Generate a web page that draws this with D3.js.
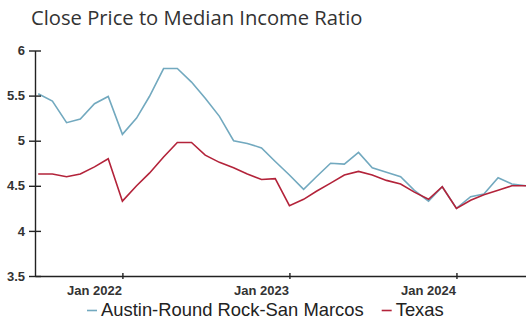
<!DOCTYPE html>
<html>
<head>
<meta charset="utf-8">
<script src="https://cdn.jsdelivr.net/npm/d3@7"></script>
<style>
  html, body { margin: 0; padding: 0; background: #fff; }
  svg { display: block; }
</style>
</head>
<body>
<svg id="chart" width="526" height="322"></svg>
<script>
// Monthly series, Jul 2021 – Jun 2024
const months = [
  "2021-07","2021-08","2021-09","2021-10","2021-11","2021-12",
  "2022-01","2022-02","2022-03","2022-04","2022-05","2022-06",
  "2022-07","2022-08","2022-09","2022-10","2022-11","2022-12",
  "2023-01","2023-02","2023-03","2023-04","2023-05","2023-06",
  "2023-07","2023-08","2023-09","2023-10","2023-11","2023-12",
  "2024-01","2024-02","2024-03","2024-04","2024-05","2024-06"
];
const austin = [
  5.52, 5.44, 5.20, 5.24, 5.41, 5.49,
  5.07, 5.25, 5.49, 5.80, 5.80, 5.65,
  5.47, 5.27, 5.00, 4.97, 4.92, 4.77,
  4.62, 4.46, 4.60, 4.75, 4.74, 4.87,
  4.70, 4.65, 4.60, 4.45, 4.33, 4.49,
  4.25, 4.38, 4.41, 4.59, 4.52, 4.50
];
const texas = [
  4.63, 4.63, 4.60, 4.63, 4.71, 4.80,
  4.33, 4.50, 4.64, 4.82, 4.98, 4.98,
  4.84, 4.76, 4.70, 4.63, 4.57, 4.58,
  4.28, 4.35, 4.44, 4.53, 4.62, 4.66,
  4.62, 4.56, 4.52, 4.43, 4.35, 4.49,
  4.25, 4.34, 4.40, 4.45, 4.50, 4.50
];
const yTicks = [3.5, 4, 4.5, 5, 5.5, 6];
const xTickLabels = ["2022-01", "2023-01", "2024-01"];
const seriesNames = ["Austin-Round Rock-San Marcos", "Texas"];
const seriesColors = ["#72a9bf", "#b3233a"];

const parse = d3.timeParse("%Y-%m");
const dates = months.map(parse);

const svg = d3.select("#chart");

const x = d3.scaleTime()
  .domain([new Date(2021, 5, 24), new Date(2024, 5, 1)])
  .range([35, 526]);
const y = d3.scaleLinear()
  .domain([3.5, 6])
  .range([276, 50.5]);

// Title
svg.append("text")
  .attr("x", 31)
  .attr("y", 25)
  .attr("font-family", "'Open Sans', sans-serif")
  .attr("font-size", 20.2)
  .attr("fill", "#333")
  .text("Close Price to Median Income Ratio");

// Lines
const line = d3.line()
  .x((d, i) => x(dates[i]))
  .y(d => y(d));

[austin, texas].forEach((vals, k) => {
  svg.append("path")
    .datum(vals)
    .attr("fill", "none")
    .attr("stroke", seriesColors[k])
    .attr("stroke-width", 1.6)
    .attr("stroke-linejoin", "miter")
    .attr("d", line);
});

// Y axis
const yAxis = svg.append("g")
  .attr("transform", "translate(35,0)")
  .call(d3.axisLeft(y).tickValues(yTicks).tickFormat(d3.format("")).tickSizeInner(6).tickSizeOuter(0).tickPadding(4));
yAxis.selectAll(".tick line").attr("x1", 6).attr("x2", -6).attr("stroke", "#222").attr("stroke-width", 1.4);
yAxis.select(".domain").attr("stroke", "#222").attr("stroke-width", 1.4);
yAxis.selectAll(".tick text")
  .attr("x", -10)
  .attr("font-family", "'Liberation Sans', Arial, sans-serif")
  .attr("font-size", 13)
  .attr("font-weight", "bold")
  .attr("fill", "#333");

// X axis
const xAxis = svg.append("g")
  .attr("transform", "translate(0,276)")
  .call(d3.axisBottom(x).tickValues(xTickLabels.map(parse))
    .tickFormat(d3.timeFormat("%b %Y")).tickSizeInner(3).tickSizeOuter(0));
xAxis.selectAll(".tick line").attr("y1", -3).attr("y2", 3).attr("stroke", "#222").attr("stroke-width", 1.4);
xAxis.select(".domain").attr("stroke", "#222").attr("stroke-width", 1.4);
xAxis.selectAll(".tick text")
  .attr("x", -1)
  .attr("y", 19)
  .attr("dy", 0)
  .attr("text-anchor", "end")
  .attr("font-family", "'Liberation Sans', Arial, sans-serif")
  .attr("font-size", 13)
  .attr("font-weight", "bold")
  .attr("fill", "#333");

// Legend
const legend = svg.append("g").attr("transform", "translate(0,316)");
let lx = 87;
seriesNames.forEach((name, k) => {
  legend.append("line")
    .attr("x1", lx).attr("x2", lx + 10)
    .attr("y1", -5.5).attr("y2", -5.5)
    .attr("stroke", seriesColors[k])
    .attr("stroke-width", 1.6);
  const t = legend.append("text")
    .attr("x", lx + 14)
    .attr("y", 0)
    .attr("font-family", "'Liberation Sans', Arial, sans-serif")
    .attr("font-size", 18.4)
    .attr("fill", "#222")
    .text(name);
  lx += 14 + t.node().getComputedTextLength() + 18;
});
</script>
</body>
</html>
